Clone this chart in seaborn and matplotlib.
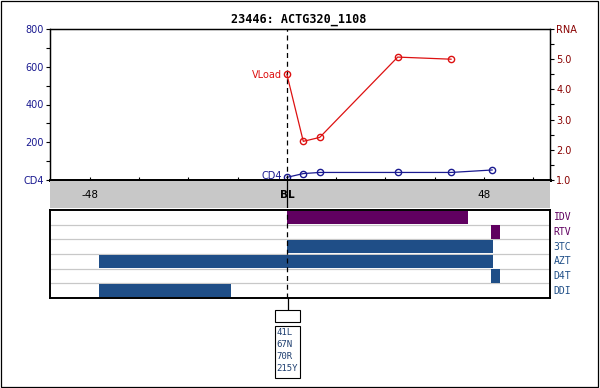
import matplotlib
matplotlib.use("Agg")
import matplotlib.pyplot as plt
from matplotlib.patches import Rectangle
from matplotlib.lines import Line2D
import seaborn as sns
import pandas as pd

# ---- data ----
title = "23446: ACTG320_1108"
weeks_rna = [0, 4, 8, 27, 40]
rna = [4.5, 2.28, 2.41, 5.07, 5.0]
weeks_cd4 = [0, 4, 8, 27, 40, 50]
cd4 = [14, 34, 40, 40, 40, 53]
drugs = ["IDV", "RTV", "3TC", "AZT", "D4T", "DDI"]
drug_start = [0, 49.8, 0, -45.8, 49.8, -45.8]
drug_stop = [44.2, 52, 50.2, 50.2, 52, -13.6]
drug_class = ["PI", "PI", "NRTI", "NRTI", "NRTI", "NRTI"]
mutations = ["41L", "67N", "70R", "215Y"]
x_ticklabels = {-48: "-48", 0: "BL", 48: "48"}

PI_COL = "#600060"
NRTI_COL = "#1f4e87"
CD4_COL = "#1a1a90"
RNA_COL = "#dd1111"
RNA_AX = "#880000"

W, H = 600, 388
fig = plt.figure(figsize=(6, 3.88), dpi=100)
fig.patch.set_facecolor("white")

def fx(px):
    return px / W

def fy(py):
    return 1 - py / H

XMIN, XMAX = -57.7, 64.1
L, R = 50, 550

# ---- top panel ----
ax = fig.add_axes([fx(L), fy(180), fx(R - L), (180 - 29) / H])
axr = ax.twinx()
df_c = pd.DataFrame({"week": weeks_cd4, "cd4": cd4})
df_r = pd.DataFrame({"week": weeks_rna, "rna": rna})
sns.lineplot(data=df_c, x="week", y="cd4", ax=ax, color=CD4_COL, marker="o",
             markersize=4.5, markerfacecolor="none", markeredgecolor=CD4_COL,
             markeredgewidth=1, linewidth=0.9)
sns.lineplot(data=df_r, x="week", y="rna", ax=axr, color=RNA_COL, marker="o",
             markersize=4.5, markerfacecolor="none", markeredgecolor=RNA_COL,
             markeredgewidth=1, linewidth=0.9)
ax.set_xlim(XMIN, XMAX)
ax.set_ylim(0, 800)
axr.set_ylim(1, 6)
ax.set_xlabel("")
ax.set_ylabel("")
axr.set_ylabel("")

ax.set_yticks([0, 200, 400, 600, 800])
ax.set_yticklabels(["CD4", "200", "400", "600", "800"])
ax.set_yticks([100, 300, 500, 700], minor=True)
axr.set_yticks([1, 2, 3, 4, 5, 6])
axr.set_yticklabels(["1.0", "2.0", "3.0", "4.0", "5.0", "RNA"])
axr.set_yticks([1.5, 2.5, 3.5, 4.5, 5.5], minor=True)
for a, col in ((ax, CD4_COL), (axr, RNA_AX)):
    a.tick_params(axis="y", which="both", direction="out", length=2.6,
                  width=0.8, colors="black", labelcolor=col, labelsize=7, pad=2)
ax.set_xticks(range(-48, 61, 12))
ax.tick_params(axis="x", which="both", direction="in", length=2.5, width=0.8,
               labelbottom=False)
axr.tick_params(axis="x", which="both", bottom=False, labelbottom=False)
for a in (ax, axr):
    for s in ("top", "left", "right"):
        a.spines[s].set_linewidth(0.9)
        a.spines[s].set_color("black")
    a.spines["bottom"].set_linewidth(2.0)
    a.spines["bottom"].set_color("black")
ax.axvline(0, color="black", linestyle=(0, (4, 3)), linewidth=0.9)

ax.text(-1.2, 555, "VLoad", color=RNA_COL, fontsize=7, ha="right", va="center")
ax.text(-1.2, 20, "CD4", color=CD4_COL, fontsize=7, ha="right", va="center")

fig.text(fx(298.5), fy(20), title, ha="center", va="center",
         family="DejaVu Sans Mono", fontweight="bold", fontsize=8.5)

# ---- gray band with x labels ----
axb = fig.add_axes([fx(L), fy(208), fx(R - L), (208 - 181) / H])
axb.set_facecolor("#c8c8c8")
axb.set_xlim(XMIN, XMAX)
axb.set_ylim(0, 1)
axb.set_xticks([])
axb.set_yticks([])
for s in axb.spines.values():
    s.set_visible(False)
for xv, lab in x_ticklabels.items():
    axb.text(xv, 0.5, lab, ha="center", va="center", fontsize=7.5,
             fontweight="bold" if lab == "BL" else "normal", color="black")
axb.axvline(0, color="black", linewidth=0.9)

# ---- drug panel ----
axd = fig.add_axes([fx(L), fy(298), fx(R - L), (298 - 210) / H])
axd.set_xlim(XMIN, XMAX)
axd.set_ylim(len(drugs) - 0.5, -0.5)
for i in range(1, len(drugs)):
    axd.axhline(i - 0.5, color="#c8c8c8", linewidth=0.9, zorder=1)
for i, d in enumerate(drugs):
    col = PI_COL if drug_class[i] == "PI" else NRTI_COL
    axd.barh(i, drug_stop[i] - drug_start[i], left=drug_start[i], height=0.93,
             color=col, edgecolor="none", zorder=2)
    axd.text(XMAX + 0.9, i, d, color=col, fontsize=7, ha="left", va="center",
             family="DejaVu Sans Mono")
axd.axvline(0, color="black", linestyle=(0, (4, 3)), linewidth=0.9, zorder=3)
axd.set_xticks([])
axd.set_yticks([])
for s in axd.spines.values():
    s.set_linewidth(1.4)
    s.set_color("black")

# ---- mutation boxes ----
fig.add_artist(Line2D([fx(287.5), fx(287.5)], [fy(298), fy(309)],
                      color="black", linewidth=0.9))
fig.add_artist(Rectangle((fx(275), fy(321.5)), fx(24.5), (321.5 - 309.5) / H,
                         fill=False, edgecolor="black", linewidth=0.8))
fig.add_artist(Rectangle((fx(275), fy(377.5)), fx(24.5), (377.5 - 325.5) / H,
                         fill=False, edgecolor="black", linewidth=0.8))
for k, m in enumerate(mutations):
    fig.text(fx(276.3), fy(332.5 + 12 * k), m, color="#1f3f70", fontsize=6.5,
             ha="left", va="center", family="DejaVu Sans Mono")

# ---- outer frame ----
fig.add_artist(Rectangle((fx(0.5), fy(386.5)), fx(597.5), 386 / H, fill=False,
                         edgecolor="black", linewidth=0.9))

fig.savefig("out.png", dpi=100)
